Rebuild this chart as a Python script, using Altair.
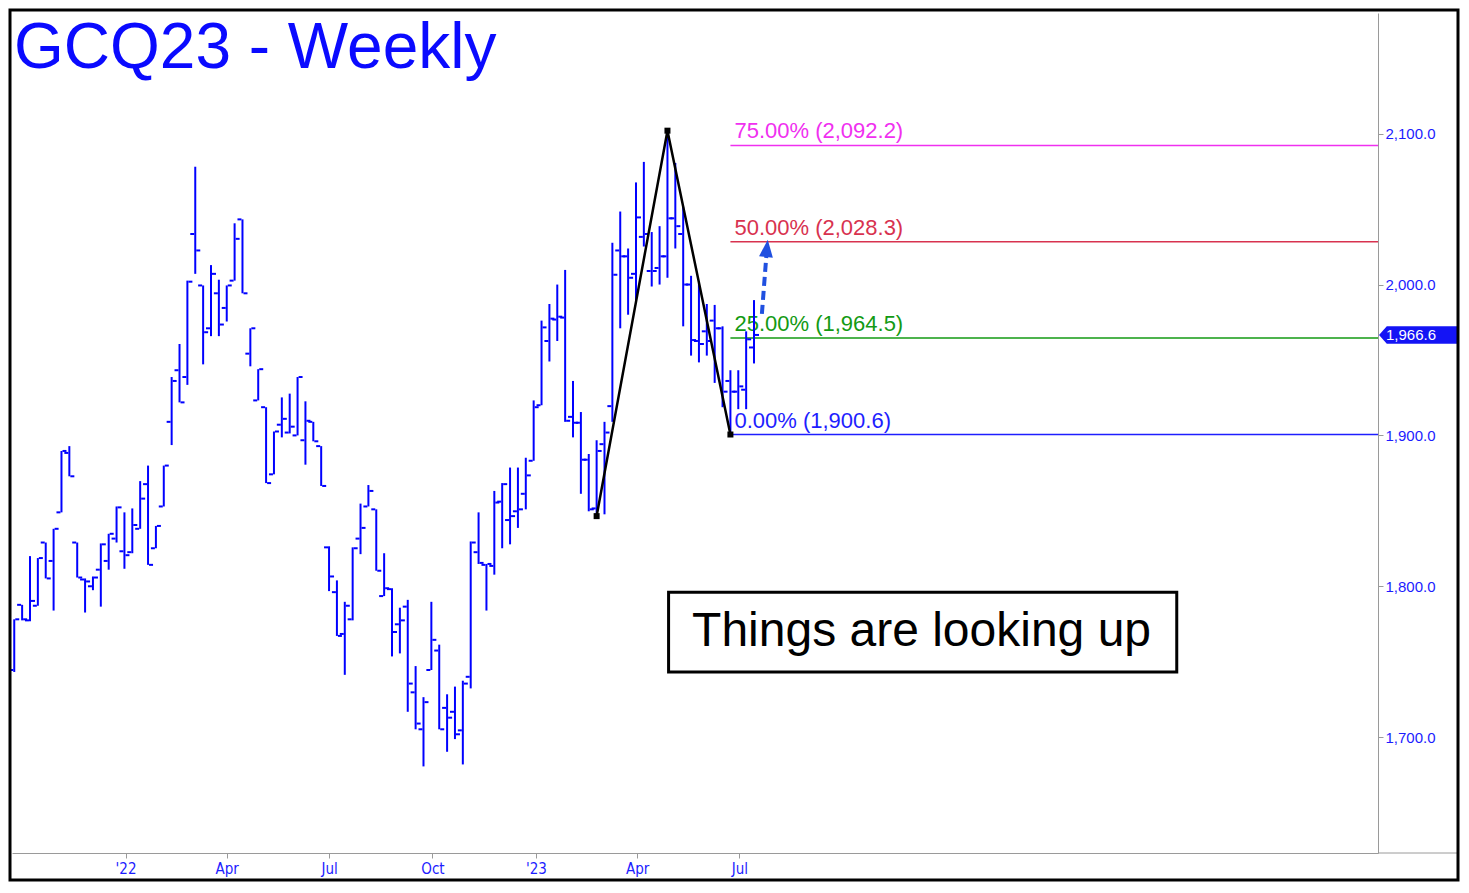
import altair as alt
import pandas as pd

# ---------------- data ----------------
first_week = "2021-09-24"   # weekly bars, Fridays
opens = [1744.5, 1787.7, 1777.4, 1787.1, 1829.0, 1816.8, 1849.0, 1888.4, 1829.0, 1804.5,
         1800.0, 1811.0, 1816.8, 1831.6, 1823.2, 1822.6, 1838.1, 1867.7, 1825.2, 1852.9,
         1909.0, 1943.2, 1938.7, 2033.5, 1999.4, 1971.0, 1994.2, 1984.5, 2002.6, 2043.2,
         1954.2, 1923.2, 1918.7, 1874.2, 1907.1, 1901.9, 1900.0, 1896.8, 1909.0, 1892.9,
         1825.8, 1796.1, 1768.4, 1778.1, 1831.6, 1852.9, 1851.0, 1793.5, 1798.1, 1774.8,
         1786.5, 1729.7, 1705.2, 1744.5, 1757.4, 1719.4, 1716.8, 1704.5, 1740.0, 1822.6,
         1814.2, 1813.5, 1856.1, 1843.9, 1849.7, 1861.3, 1883.2, 1920.0, 1962.6, 1976.8,
         1978.1, 1912.3, 1908.4, 1883.9, 1851.6, 1894.2, 1919.4, 2022.6, 2018.7, 2007.1,
         2031.6, 2009.0, 2011.0, 2018.7, 2043.9, 2033.5, 2000.0, 1962.6, 1969.0, 1976.1,
         1971.0, 1936.1, 1929.0, 1930.3, 1958.3]
highs = [1778.1, 1787.7, 1820.0, 1818.7, 1829.0, 1838.1, 1889.7, 1892.9, 1829.0, 1805.2,
         1806.5, 1828.4, 1834.8, 1852.9, 1849.0, 1851.6, 1869.7, 1880.0, 1840.0, 1880.0,
         1938.7, 1960.6, 2002.6, 2078.1, 1999.4, 2012.9, 2003.2, 1999.4, 2040.6, 2043.2,
         1971.0, 1943.9, 1918.7, 1902.6, 1925.2, 1927.7, 1938.7, 1922.6, 1909.0, 1892.9,
         1826.5, 1803.9, 1789.7, 1825.8, 1854.8, 1867.1, 1851.0, 1821.9, 1798.7, 1785.8,
         1791.0, 1747.1, 1726.5, 1789.7, 1761.3, 1728.4, 1733.5, 1737.4, 1829.7, 1849.0,
         1814.8, 1863.2, 1868.4, 1878.7, 1878.7, 1885.2, 1923.2, 1976.1, 1987.1, 2000.0,
         2009.7, 1936.1, 1915.5, 1887.7, 1896.8, 1909.0, 2027.7, 2048.4, 2023.9, 2067.7,
         2081.3, 2034.8, 2038.7, 2101.9, 2080.6, 2051.6, 2005.8, 2001.3, 1987.1, 1986.5,
         1972.3, 1943.2, 1943.2, 1969.0, 1989.7]
lows = [1743.2, 1777.4, 1776.8, 1787.1, 1805.2, 1783.9, 1849.0, 1872.9, 1805.8, 1782.6,
        1797.4, 1786.5, 1811.0, 1829.0, 1811.6, 1821.9, 1838.1, 1814.2, 1825.2, 1852.9,
        1893.6, 1921.9, 1933.5, 2007.1, 1947.1, 1965.8, 1965.8, 1975.5, 2002.6, 1994.2,
        1945.8, 1923.2, 1868.4, 1874.2, 1898.7, 1901.3, 1900.0, 1880.6, 1896.1, 1866.5,
        1796.8, 1767.1, 1741.3, 1777.4, 1821.3, 1852.9, 1810.3, 1793.5, 1753.5, 1755.5,
        1716.8, 1705.2, 1680.6, 1744.5, 1705.2, 1690.3, 1698.7, 1681.9, 1732.3, 1814.8,
        1783.9, 1807.7, 1825.2, 1827.8, 1838.7, 1851.0, 1883.2, 1920.0, 1949.0, 1962.6,
        1909.0, 1898.7, 1861.3, 1849.7, 1847.7, 1847.7, 1909.0, 1971.0, 1980.0, 1988.4,
        2025.2, 1998.7, 2000.0, 2004.5, 2023.9, 1972.3, 1952.9, 1948.4, 1952.9, 1934.8,
        1918.7, 1900.6, 1917.4, 1917.4, 1947.7]
closes = [1778.1, 1778.1, 1790.3, 1818.7, 1805.2, 1838.1, 1889.7, 1872.9, 1805.8, 1803.2,
          1805.8, 1827.8, 1834.8, 1852.3, 1820.6, 1840.6, 1858.1, 1814.2, 1840.0, 1880.0,
          1936.1, 1921.9, 2001.9, 2022.6, 1968.4, 2007.1, 1973.5, 1999.4, 2030.3, 1994.2,
          1971.0, 1943.9, 1868.4, 1902.6, 1911.0, 1905.8, 1938.7, 1909.7, 1896.1, 1866.5,
          1806.5, 1767.1, 1787.1, 1825.2, 1838.7, 1863.2, 1810.3, 1798.7, 1769.7, 1777.4,
          1735.5, 1709.0, 1723.2, 1764.5, 1705.2, 1712.9, 1701.9, 1735.5, 1829.0, 1815.5,
          1814.8, 1855.5, 1867.7, 1846.5, 1851.0, 1873.5, 1918.7, 1971.6, 1977.4, 1978.7,
          1909.7, 1908.4, 1883.9, 1851.0, 1889.7, 1901.9, 2006.5, 2018.7, 2004.5, 2044.5,
          2033.5, 2009.0, 2018.7, 2043.9, 2038.7, 2000.0, 1963.2, 1960.6, 1962.6, 1971.0,
          1929.0, 1929.0, 1932.5, 1963.7, 1966.6]

# ABC swing (zig-zag)
swing_dates = ["2023-02-24", "2023-04-28", "2023-06-23"]
swing_prices = [1846.5, 2102.0, 1900.6]

# Fibonacci-style projection levels
fib_labels = ["75.00% (2,092.2)", "50.00% (2,028.3)", "25.00% (1,964.5)", "0.00% (1,900.6)"]
fib_values = [2092.2, 2028.3, 1964.5, 1900.6]
fib_colors = ["#F030F0", "#D8324F", "#139A13", "#1E1EFF"]
fib_start = "2023-06-23"
fib_end = "2025-01-19"

# dashed "up" arrow
arrow_dates = ["2023-07-21", "2023-07-25"]
arrow_prices = [1980.6, 2019.4]
arrow_head_date = "2023-07-25T10:00:00"
arrow_head_price = 2024.0

# annotation box
box_x = ["2023-04-29", "2024-07-24"]
box_y = [1796.1, 1743.2]
box_text_date = "2023-12-10"
box_text_price = 1770.0
box_text = "Things are looking up"

title_text = "GCQ23 - Weekly"
x_tick_dates = [(2022, 1), (2022, 4), (2022, 7), (2022, 10), (2023, 1), (2023, 4), (2023, 7)]
y_tick_values = [1700, 1800, 1900, 2000, 2100]
x_domain = [(2021, 9, 22), (2025, 1, 19)]
y_domain = [1623.2, 2180.0]

# ---------------- build ----------------
W, H = 1366, 840
BLUE = "#0000FF"
AXIS_BLUE = "#1C1CFF"
GRAY = "#9A9A9A"
FONT = "Liberation Sans"

dates = pd.date_range(first_week, periods=len(opens), freq="7D")
bars = pd.DataFrame({"date": dates, "open": opens, "high": highs, "low": lows, "close": closes})
swing = pd.DataFrame({"date": pd.to_datetime(swing_dates), "price": swing_prices})
fib = pd.DataFrame({"start": pd.to_datetime([fib_start] * 4), "end": pd.to_datetime([fib_end] * 4),
                    "value": fib_values, "label": fib_labels, "color": fib_colors})
arrow = pd.DataFrame({"date": pd.to_datetime(arrow_dates), "price": arrow_prices})
head = pd.DataFrame({"date": pd.to_datetime([arrow_head_date]), "price": [arrow_head_price]})
box = pd.DataFrame({"x": [pd.Timestamp(box_x[0])], "x2": [pd.Timestamp(box_x[1])],
                    "y": [box_y[0]], "y2": [box_y[1]]})
boxtxt = pd.DataFrame({"date": [pd.Timestamp(box_text_date)], "price": [box_text_price], "t": [box_text]})
last = pd.DataFrame({"price": [closes[-1]], "t": [f"{closes[-1]:,.1f}"]})
title_df = pd.DataFrame({"t": [title_text]})
dummy = pd.DataFrame({"a": [0]})

xscale = alt.Scale(domain=[alt.DateTime(year=y, month=m, date=d) for (y, m, d) in x_domain])
yscale = alt.Scale(domain=y_domain, nice=False, zero=False)
xaxis = alt.Axis(values=[alt.DateTime(year=y, month=m, date=1) for (y, m) in x_tick_dates],
                 labelExpr="month(datum.value) == 0 ? \"'\" + timeFormat(datum.value, '%y') : timeFormat(datum.value, '%b')",
                 title=None, grid=False, labelColor=AXIS_BLUE, labelFontSize=15,
                 labelFont="DejaVu Sans Condensed, Liberation Sans",
                 tickColor=GRAY, tickSize=5, domainColor=GRAY, labelPadding=3)
yaxis = alt.Axis(orient="right", values=y_tick_values, format=",.1f", title=None, grid=False,
                 labelColor=AXIS_BLUE, labelFontSize=15, labelFont=FONT, tickColor=GRAY, tickSize=5,
                 domainColor=GRAY, labelPadding=2)


def X(field):
    return alt.X(field, type="temporal", scale=xscale, axis=xaxis)


def Y(field):
    return alt.Y(field, type="quantitative", scale=yscale, axis=yaxis)


fib_lines = alt.Chart(fib).mark_rule(strokeWidth=1.5).encode(
    x=X("start"), x2="end:T", y=Y("value"), color=alt.Color("color:N", scale=None))
fib_text = alt.Chart(fib).mark_text(align="left", baseline="alphabetic", dx=4, dy=-7,
                                    fontSize=22, font=FONT).encode(
    x=X("start"), y=Y("value"), text="label:N", color=alt.Color("color:N", scale=None))

hl = alt.Chart(bars).mark_rule(color=BLUE, strokeWidth=2).encode(x=X("date"), y=Y("low"), y2="high:Q")
op = alt.Chart(bars).mark_tick(orient="horizontal", color=BLUE, size=4, thickness=2, xOffset=-3,
                               opacity=1).encode(x=X("date"), y=Y("open"))
cl = alt.Chart(bars).mark_tick(orient="horizontal", color=BLUE, size=4, thickness=2, xOffset=3,
                               opacity=1).encode(x=X("date"), y=Y("close"))

zig = alt.Chart(swing).mark_line(color="black", strokeWidth=2.5).encode(x=X("date"), y=Y("price"))
zig_pts = alt.Chart(swing).mark_square(color="black", size=36, opacity=1).encode(x=X("date"), y=Y("price"))

arr = alt.Chart(arrow).mark_line(color="#2050E0", strokeWidth=4, strokeDash=[9, 5]).encode(
    x=X("date"), y=Y("price"))
arr_head = alt.Chart(head).mark_point(shape="M 0 -1 L 0.8 1 L -0.8 1 Z", filled=True, color="#2050E0",
                                      size=300, angle=6, opacity=1).encode(x=X("date"), y=Y("price"))

box_rect = alt.Chart(box).mark_rect(fill="white", stroke="black", strokeWidth=3).encode(
    x=X("x"), x2="x2:T", y=Y("y"), y2="y2:Q")
box_label = alt.Chart(boxtxt).mark_text(fontSize=48, font=FONT, color="black", baseline="middle").encode(
    x=X("date"), y=Y("price"), text="t:N")

title = alt.Chart(title_df).mark_text(align="left", baseline="alphabetic", fontSize=64, font=FONT,
                                      color="#0A0AFF").encode(x=alt.value(2), y=alt.value(55), text="t:N")

tag = alt.Chart(last).mark_point(shape="M -1 0 L -0.8 -0.225 L 1 -0.225 L 1 0.225 L -0.8 0.225 Z",
                                 filled=True, color="#1414F5", size=78 * 78, opacity=1).encode(
    x=alt.value(W + 40), y=Y("price"))
tag_text = alt.Chart(last).mark_text(align="left", baseline="middle", fontSize=15, font=FONT,
                                     color="white").encode(x=alt.value(W + 8), y=Y("price"), text="t:N")

axis_ext = alt.Chart(dummy).mark_rule(color=GRAY, strokeWidth=1).encode(
    x=alt.value(W), x2=alt.value(W + 80), y=alt.value(H))
frame = alt.Chart(dummy).mark_rect(fillOpacity=0, stroke="black", strokeWidth=3).encode(
    x=alt.value(-2), x2=alt.value(W + 80), y=alt.value(-3), y2=alt.value(H + 27))

chart = alt.layer(
    fib_lines, fib_text, hl, op, cl, zig, zig_pts, arr, arr_head, box_rect, box_label,
    title, tag, tag_text, axis_ext, frame
).properties(width=W, height=H, padding=0).configure_view(stroke=None)

chart.save("out.html", embed_options={"renderer": "svg", "actions": False})
